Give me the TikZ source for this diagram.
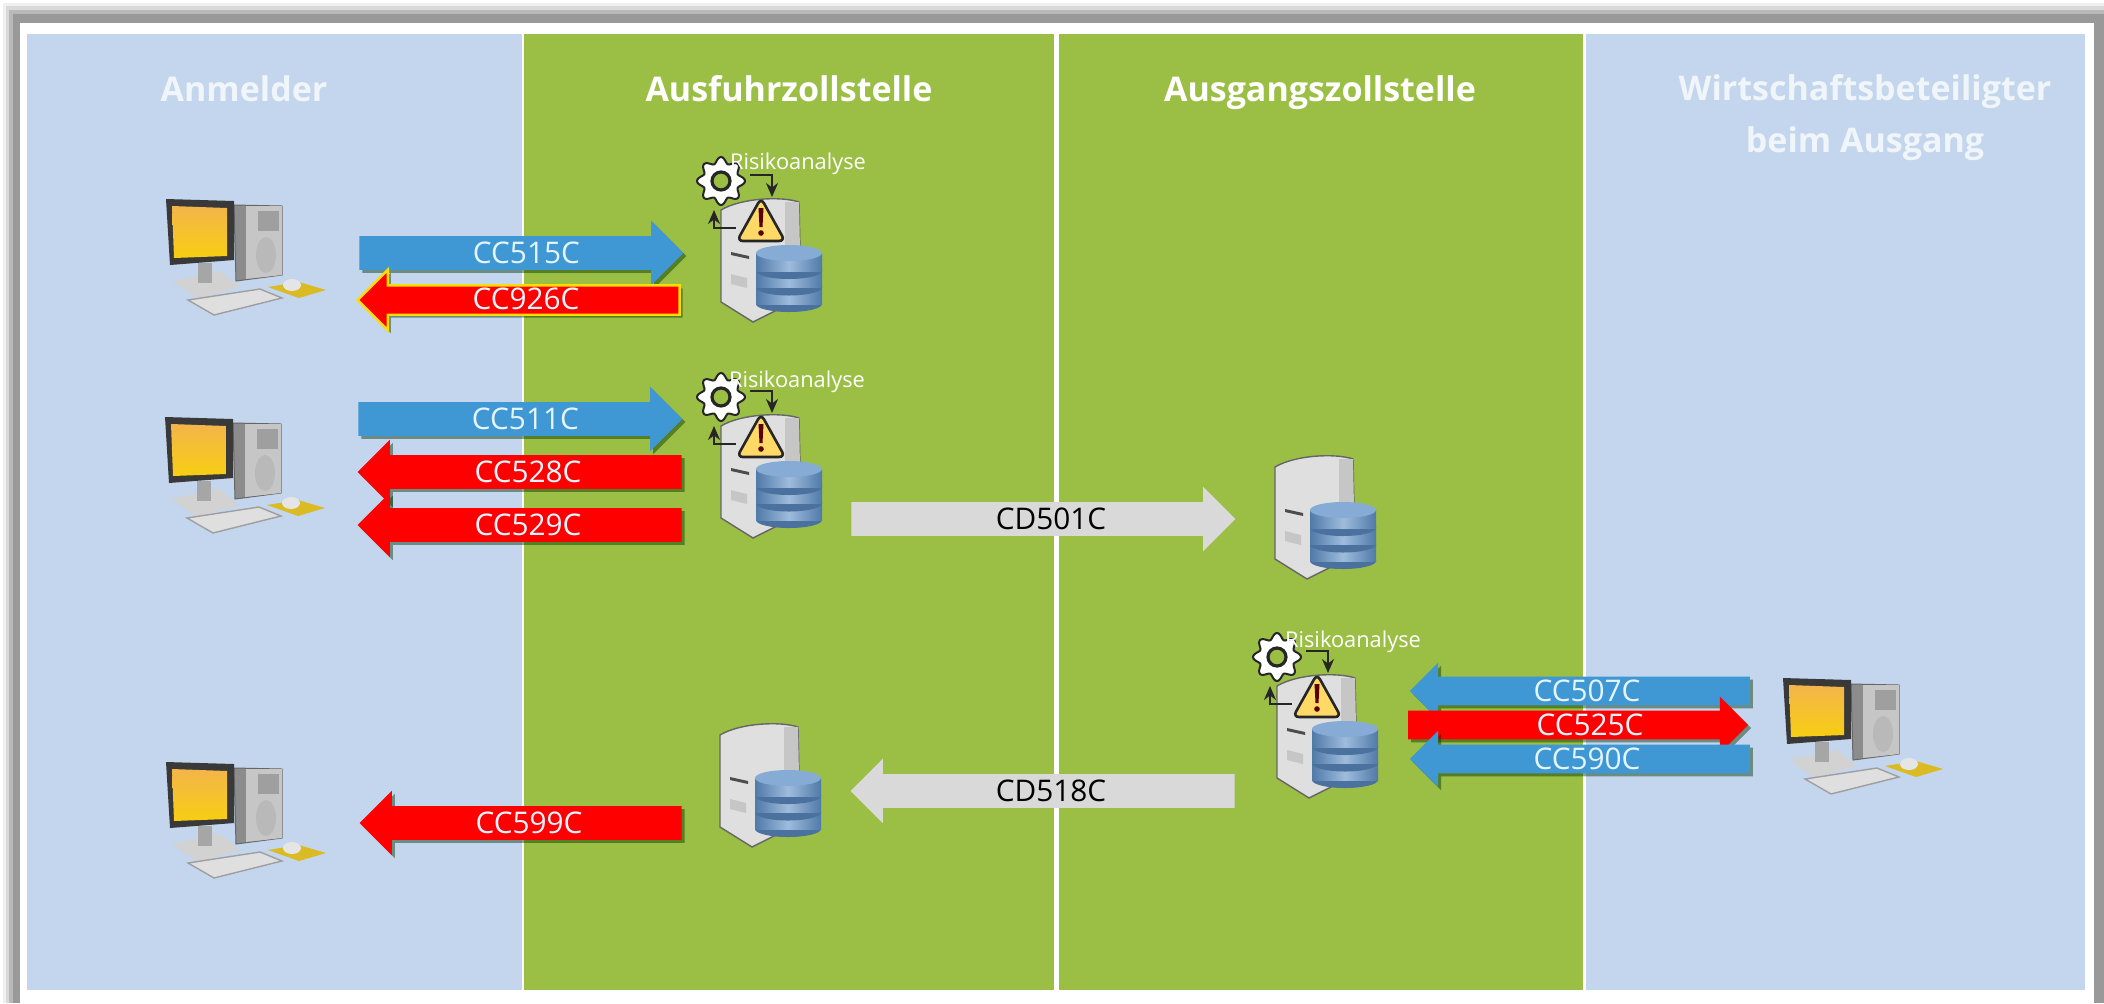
\documentclass[tikz,border=0pt]{standalone}
\usepackage{fontspec}
\setmainfont{Open Sans}
\usetikzlibrary{shapes.arrows,shadows,arrows.meta,positioning}
\definecolor{laneblue}{HTML}{C3D6ED}
\definecolor{lanegreen}{HTML}{9BBE45}
\definecolor{msgblue}{HTML}{3F97D3}
\definecolor{msgred}{HTML}{FF0000}
\definecolor{msggrey}{HTML}{D9D9D9}
\definecolor{msgtext}{HTML}{E4F5FF}
\definecolor{warnyellow}{HTML}{FFD966}
\definecolor{dbblue}{HTML}{5E8FC6}
\definecolor{screentop}{HTML}{F3B54A}
\definecolor{screenmid}{HTML}{FBE79A}
\definecolor{screenlow}{HTML}{F7CE12}
\tikzset{
    msgbase/.style={single arrow, single arrow head extend=7.75pt, inner xsep=0pt, inner ysep=0pt,
        text height=13.5pt, text depth=3pt, font=\fontsize{14.9}{16}\selectfont, text=msgtext},
    msg/.style={msgbase,
        drop shadow={shadow xshift=1.5pt, shadow yshift=-1.5pt, opacity=.45, fill=black!80!green}},
    greymsg/.style={msgbase, fill=msggrey, text=black},
    narrowmsg/.style={msg, single arrow head extend=7pt, text height=12.25pt, text depth=1.75pt},
    toleft/.style={shape border rotate=180},
    pushtext/.style={execute at begin node={\hspace*{#1}}},
    heading/.style={font=\fontsize{17}{26}\selectfont\bfseries, align=center},
    headline/.style={heading, text height=1em, text depth=.3em},
    risk/.style={font=\fontsize{10.9}{12}\selectfont, text=white},
    pics/computer/.style={code={
        % desk parts first, monitor on top
        \fill[gray!35] (-56,26) -- (-8,16) -- (12,32) -- (-30,44) -- cycle;
        \fill[gray!70] (-30,8) rectangle (-16,28);
        \draw[gray!75, fill=gray!25, line width=.7pt] (-40,45) -- (-14,60) -- (54,43) -- (32,34) -- cycle;
        \fill[yellow!70!orange!85!black] (40,32) -- (71,43) -- (98,35) -- (71,27) -- cycle;
        \fill[gray!20] (64,30) ellipse [x radius=9, y radius=6];
        \draw[gray!80!black, fill=gray!90, line width=.5pt] (6,-50) -- (54,-49) -- (54,20) -- (8,26) -- cycle;
        \fill[gray!45] (18,-49) -- (54,-49) -- (54,20) -- (18,24) -- cycle;
        \fill[gray!75] (30,-44) rectangle (51,-24);
        \fill[gray!55] (38,0) ellipse [x radius=10, y radius=18];
        \fill[black!55!gray] (-62,-56) -- (6,-54) -- (6,5) -- (-58,10) -- cycle;
        \shade[top color=screentop, middle color=screenmid, bottom color=screenlow] (-56,-49) -- (-1,-47) -- (-1,1) -- (-54,3) -- cycle;
    }},
    pics/dbserver/.style={code={
        \draw[black!60, fill=gray!25, line width=.7pt] (-40,-50) .. controls (-20,-62) and (20,-64) .. (38,-58)
            -- (40,38) -- (-8,62) -- (-40,42) -- cycle;
        \fill[gray!45] (24,-58) -- (38,-58) -- (40,38) -- (24,46) -- cycle;
        \fill[black!70] (-30,-8) -- (-12,-4) -- (-12,-1) -- (-30,-5) -- cycle;
        \fill[gray!45] (-30,14) -- (-14,18) -- (-14,28) -- (-30,24) -- cycle;
        % three discs, bottom one first
        \foreach \discy in {30,13.5,-3} {
            \fill[dbblue!80!black] (28,\discy+14) ellipse [x radius=33, y radius=8];
            \shade[left color=dbblue!85!black, right color=dbblue!85!black, middle color=dbblue!60!white]
                (-5,\discy-4) rectangle (61,\discy+14);
            \fill[dbblue!75!white] (28,\discy-4) ellipse [x radius=33, y radius=8];
        }
    }},
    pics/riskbadge/.style={code={
        \draw[black!85, fill=white, line width=1pt] plot[domain=0:360, samples=97]
            ({-40+(21+3*cos(8*\x))*cos(\x)},{-79+(21+3*cos(8*\x))*sin(\x)}) -- cycle;
        \draw[black!85, fill=lanegreen, line width=1.6pt] (-40,-79) circle (9);
        \draw[black!85, fill=warnyellow, line width=1.3pt, rounded corners=3pt] (0,-62) -- (24,-19) -- (-24,-19) -- cycle;
        \fill[black!65!red] (-2.5,-52) -- (2.5,-52) -- (1.5,-33) -- (-1.5,-33) -- cycle;
        \fill[black!65!red] (0,-27) circle (2.8);
        \draw[black!85, line width=1pt, -{Stealth[length=7pt,width=6pt]}] (-11,-85) -- (11,-85) -- (11,-63);
        \draw[black!85, line width=1pt, -{Stealth[length=7pt,width=6pt]}] (-25,-32) -- (-47,-32) -- (-47,-50);
    }},
}
\begin{document}
\begin{tikzpicture}[x=0.5pt, y=-0.5pt]
    \useasboundingbox (0,0) rectangle (2104,1003);

    % frame
    \fill[gray!12] (3,3) rectangle (2104,1003);
    \fill[gray!30] (6,6) rectangle (2104,1003);
    \fill[gray!55] (9,10) rectangle (2104,1003);
    \fill[gray!80] (13,14) rectangle (2104,1003);
    \fill[white] (20,23) rectangle (2094,1003);

    % lanes
    \fill[laneblue] (27,34) rectangle (522,990);
    \fill[lanegreen] (524,34) rectangle (1054,990);
    \fill[lanegreen] (1059,34) rectangle (1583,990);
    \fill[laneblue] (1586,34) rectangle (2085,990);

    \node[headline, text=white!75!laneblue] (anmelder) at (244,94) {Anmelder};
    \node[headline, text=white] (ausfuhr) at (789,94) {Ausfuhrzollstelle};
    \node[headline, text=white] (ausgang) at (1320,94) {Ausgangszollstelle};
    \node[heading, text=white!75!laneblue] (wirtschaft) at (1865,118) {Wirtschaftsbeteiligter\\beim Ausgang};

    % computers
    \pic (pcA) at (228,255) {computer};
    \pic (pcB) at (227,473) {computer};
    \pic (pcC) at (228,818) {computer};
    \pic (pcD) at (1845,734) {computer};

    % servers
    \pic (srvA) at (761,260) {dbserver};
    \pic (srvB) at (761,476) {dbserver};
    \pic (srvC) at (1315,517) {dbserver};
    \pic (srvD) at (760,785) {dbserver};
    \pic (srvE) at (1317,736) {dbserver};
    \pic (badgeA) at (761,260) {riskbadge};
    \pic (badgeB) at (761,476) {riskbadge};
    \pic (badgeE) at (1317,736) {riskbadge};
    \node[risk] (riskA) at (798,164) {Risikoanalyse};
    \node[risk] (riskB) at (797,382) {Risikoanalyse};
    \node[risk] (riskE) at (1353,642) {Risikoanalyse};

    % messages
    \node[msg, pushtext=13.4pt, fill=msgblue, minimum height=162pt] (cc515) at (513,253) {CC515C};
    \node[msg, toleft, fill=msgred, draw=yellow!80!orange, line width=1.2pt, minimum height=161pt, text height=11.5pt, text depth=2pt] (cc926) at (526,300) {CC926C};
    \node[msg, pushtext=13.4pt, fill=msgblue, minimum height=162pt] (cc511) at (512,419) {CC511C};
    \node[msg, toleft, fill=msgred, minimum height=162pt] (cc528) at (528,472) {CC528C};
    \node[msg, toleft, fill=msgred, minimum height=162pt] (cc529) at (528,525) {CC529C};
    \node[greymsg, pushtext=16pt, minimum height=192pt] (cd501) at (1035,519) {CD501C};
    \node[greymsg, toleft, minimum height=192pt] (cd518) at (1051,791) {CD518C};
    \node[msg, toleft, fill=msgred, minimum height=161pt] (cc599) at (529,823) {CC599C};
    \node[narrowmsg, toleft, fill=msgblue, minimum height=170pt] (cc507) at (1587,691) {CC507C};
    \node[narrowmsg, pushtext=19pt, fill=msgred, minimum height=170pt] (cc525) at (1571,725) {CC525C};
    \node[narrowmsg, toleft, fill=msgblue, minimum height=170pt] (cc590) at (1587,759) {CC590C};
\end{tikzpicture}
\end{document}
